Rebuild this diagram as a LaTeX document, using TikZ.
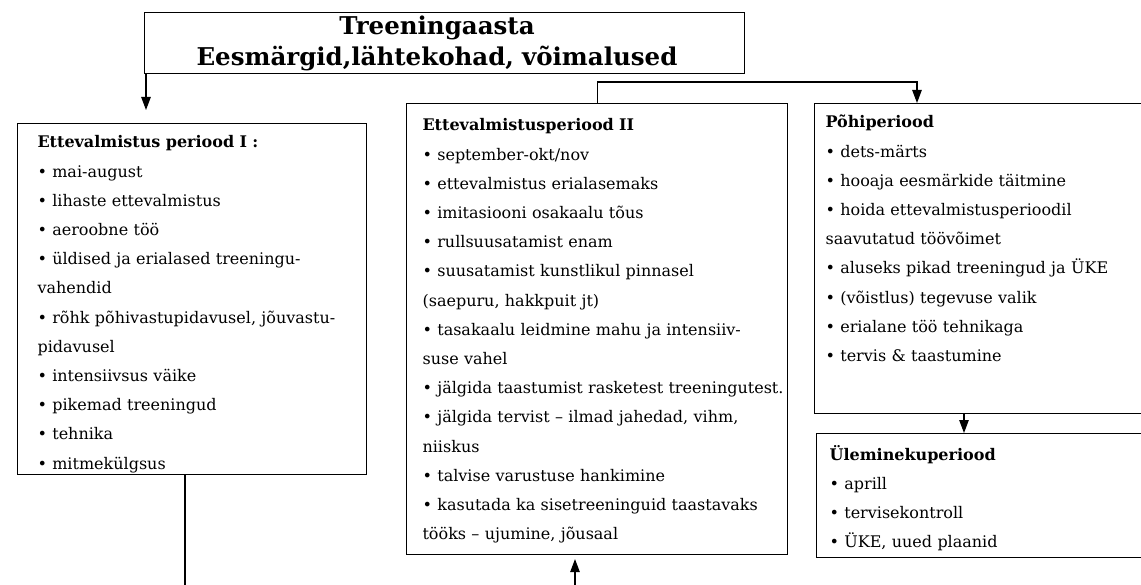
\documentclass[tikz,border=0pt]{standalone}
\usepackage{fontspec}
\setmainfont{DejaVu Serif}
\usepackage{tikz}
\usetikzlibrary{arrows.meta,positioning}

\begin{document}
\begin{tikzpicture}[->,>={Triangle[length=13pt,width=9.5pt]},x=1pt,y=-1pt,line width=1.1pt]
  \tikzstyle{box}=[draw,rectangle,inner sep=0pt,anchor=north west]
  \tikzstyle{txt}=[inner sep=0pt,anchor=base west,text width=440pt,align=left,font=\fontsize{16}{29.2}\selectfont]
	\useasboundingbox (0,0) rectangle (1141,585);
	\clip (0,0) rectangle (1141,585);

	\node[box, minimum width=600pt, minimum height=61pt] (title) at (144,12) {};
	\node[inner sep=0pt, anchor=base, text width=600pt, align=center, font=\bfseries\fontsize{24.5}{31}\selectfont] (title_t) at (437,35) {Treeningaasta\\Eesmärgid,lähtekohad, võimalused};

	\node[box, minimum width=349pt, minimum height=351pt] (per_1) at (17,123) {};
	\node[box, minimum width=381pt, minimum height=451pt] (per_2) at (406,103) {};
	\node[box, minimum width=345pt, minimum height=310pt] (main_p) at (814,103) {};
	\node[box, minimum width=345pt, minimum height=124pt] (trans_p) at (816,433) {};

	\node[txt] (per_1_t) at ([shift={(20,25)}]per_1.north west) {\textbf{Ettevalmistus periood I :}\\
		• mai-august\\
		• lihaste ettevalmistus\\
		• aeroobne töö\\
		• üldised ja erialased treeningu-\\
		vahendid\\
		• rõhk põhivastupidavusel, jõuvastu-\\
		pidavusel\\
		• intensiivsus väike\\
		• pikemad treeningud\\
		• tehnika\\
		• mitmekülgsus};
	\node[txt] (per_2_t) at ([shift={(16,28)}]per_2.north west) {\textbf{Ettevalmistusperiood II}\\
		• september-okt/nov\\
		• ettevalmistus erialasemaks\\
		• imitasiooni osakaalu tõus\\
		• rullsuusatamist enam\\
		• suusatamist kunstlikul pinnasel\\
		(saepuru, hakkpuit jt)\\
		• tasakaalu leidmine mahu ja intensiiv-\\
		suse vahel\\
		• jälgida taastumist rasketest treeningutest.\\
		• jälgida tervist – ilmad jahedad, vihm,\\
		niiskus\\
		• talvise varustuse hankimine\\
		• kasutada ka sisetreeninguid taastavaks\\
		tööks – ujumine, jõusaal};
	\node[txt] (main_p_t) at ([shift={(11,25)}]main_p.north west) {\textbf{Põhiperiood}\\
		• dets-märts\\
		• hooaja eesmärkide täitmine\\
		• hoida ettevalmistusperioodil\\
		saavutatud töövõimet\\
		• aluseks pikad treeningud ja ÜKE\\
		• (võistlus) tegevuse valik\\
		• erialane töö tehnikaga\\
		• tervis \& taastumine};
	\node[txt] (trans_p_t) at ([shift={(13,27)}]trans_p.north west) {\textbf{Üleminekuperiood}\\
		• aprill\\
		• tervisekontroll\\
		• ÜKE, uued plaanid};

	\coordinate (low_l) at (185,600);
	\coordinate (low_r) at (575,600);

	\draw[shorten >=13pt] ([xshift=2pt]title.south west) -- ([xshift=2pt]title.south west |- per_1.north);
	\draw (per_2.north) -- ++(0,-21) -| ([xshift=103pt]main_p.north west);
	\draw ([xshift=150pt]main_p.south west) -- ([xshift=148pt]trans_p.north west);
	\draw[-] ([xshift=168pt]per_1.south west) -- (low_l);
	\draw[shorten >=4pt] (low_r) -- ([xshift=169pt]per_2.south west);
\end{tikzpicture}
\end{document}
